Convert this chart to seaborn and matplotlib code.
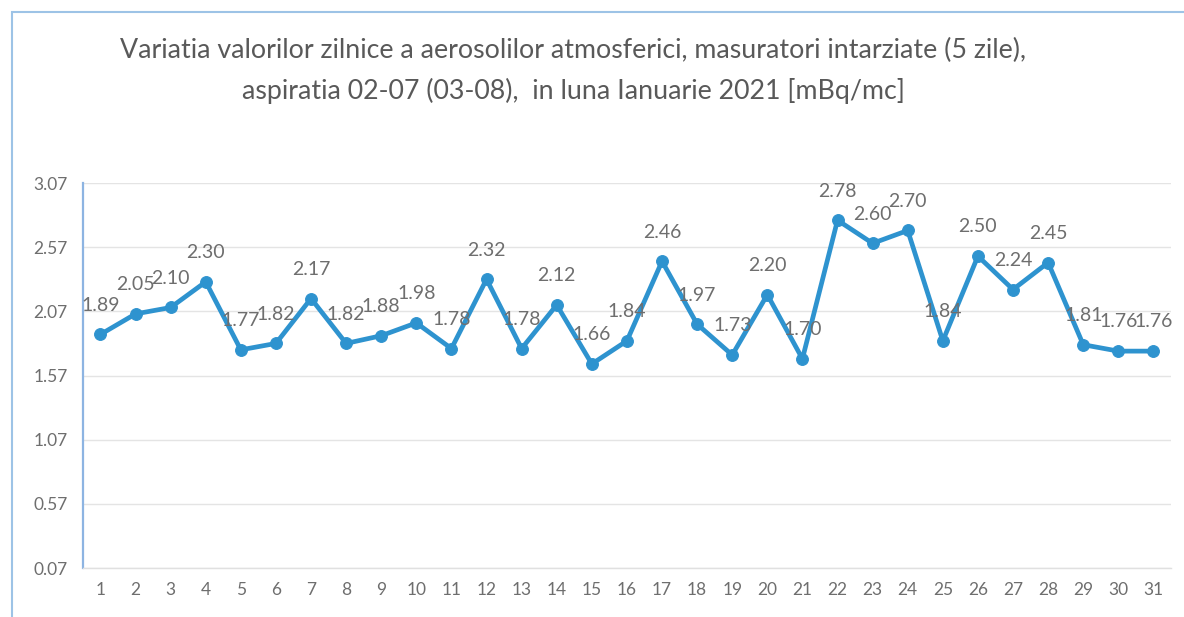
import matplotlib
matplotlib.use("Agg")
import matplotlib.pyplot as plt
import seaborn as sns
import pandas as pd
from matplotlib.patches import Rectangle

# Data
days = list(range(1, 32))
values = [1.89, 2.05, 2.10, 2.30, 1.77, 1.82, 2.17, 1.82, 1.88, 1.98,
          1.78, 2.32, 1.78, 2.12, 1.66, 1.84, 2.46, 1.97, 1.73, 2.20,
          1.70, 2.78, 2.60, 2.70, 1.84, 2.50, 2.24, 2.45, 1.81, 1.76,
          1.76]
y_ticks = [0.07, 0.57, 1.07, 1.57, 2.07, 2.57, 3.07]
title = ("Variatia valorilor zilnice a aerosolilor atmosferici, masuratori intarziate (5 zile),\n"
         "aspiratia 02-07 (03-08),  in luna Ianuarie 2021 [mBq/mc]")

df = pd.DataFrame({"day": days, "value": values})

sns.set_style("white")
plt.rcParams["font.family"] = ["Lato", "DejaVu Sans"]

line_color = "#2E93CF"
text_color = "#6E6E6E"

fig = plt.figure(figsize=(11.84, 6.17), dpi=100)
ax = fig.add_axes([0.070, 0.0794, 0.919, 0.624])

sns.lineplot(data=df, x="day", y="value", ax=ax, color=line_color,
             linewidth=3.4, marker="o", markersize=8.5,
             markeredgecolor=line_color, markerfacecolor=line_color)

for d, v in zip(days, values):
    ax.annotate(f"{v:.2f}", (d, v), xytext=(0, 21), textcoords="offset points",
                ha="center", va="center", fontsize=14, color=text_color)

ax.set_xlim(0.5, 31.5)
ax.set_ylim(0.07, 3.07)
ax.set_xticks(days)
ax.set_yticks(y_ticks)
ax.set_yticklabels([f"{t:.2f}" for t in y_ticks])
ax.set_xlabel("")
ax.set_ylabel("")
ax.tick_params(axis="both", labelsize=12.5, colors=text_color, length=0, pad=10)
ax.tick_params(axis="y", length=5, color="#8DB4E2", width=1.2, pad=6)
ax.grid(axis="y", color="#E4E4E4", linewidth=1)

for side in ["top", "right"]:
    ax.spines[side].set_visible(False)
ax.spines["left"].set_color("#8DB4E2")
ax.spines["left"].set_linewidth(1.6)
ax.spines["bottom"].set_color("#E0E0E0")
ax.spines["bottom"].set_linewidth(1)

fig.text(0.484, 0.885, title, ha="center", va="center", fontsize=19.3,
         color="#595959", linespacing=1.7)

# chart area border
fig.patches.append(Rectangle((12 / 1184, -0.05), 1.2, (617 - 12) / 617 + 0.05,
                             transform=fig.transFigure, fill=False,
                             edgecolor="#9DC3E6", linewidth=1.5))

fig.savefig("out.png", dpi=100)
plt.close(fig)
